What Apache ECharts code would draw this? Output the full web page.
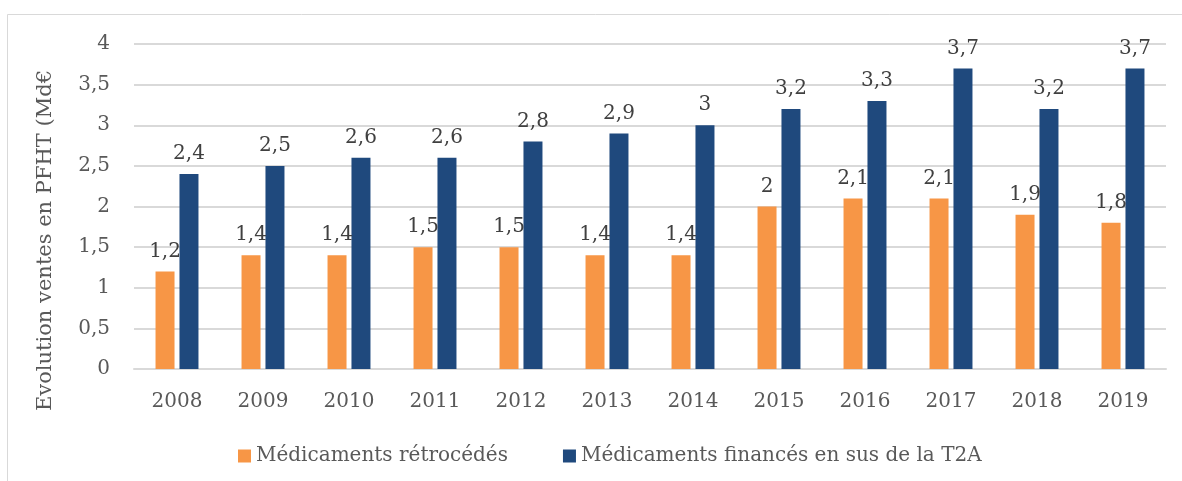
<!DOCTYPE html>
<html>
<head>
<meta charset="utf-8">
<script src="https://cdn.jsdelivr.net/npm/echarts@6/dist/echarts.min.js"></script>
<style>
html,body{margin:0;padding:0;background:#fff;}
#chart{width:1182px;height:481px;}
</style>
</head>
<body>
<div id="chart"></div>
<script>
//données
var years=['2008','2009','2010','2011','2012','2013','2014','2015','2016','2017','2018','2019'];
var retrocedes=[1.2,1.4,1.4,1.5,1.5,1.4,1.4,2,2.1,2.1,1.9,1.8];
var enSus=[2.4,2.5,2.6,2.6,2.8,2.9,3,3.2,3.3,3.7,3.2,3.7];
var seriesNames=['Médicaments rétrocédés','Médicaments financés en sus de la T2A'];
var axisTitle='Evolution ventes en PFHT (Md€';

var font='DejaVu Serif';
var fmt=function (v) {
	return String(v).replace('.',',');
};
var labelStyle={
	show:true,
	position:'top',
	distance:10,
	color:'#404040',
	fontFamily:font,
	fontSize:20,
	formatter:function (p) {return fmt(p.value);}
};

var myChart=echarts.init(document.getElementById('chart'));
var option={
	backgroundColor:'#ffffff',
	animation:false,
	textStyle:{fontFamily:font},
	graphic:[{
		type:'rect',
		shape:{x:7.5,y:14.5,width:1200,height:500},
		style:{fill:'none',stroke:'#d9d9d9',lineWidth:1},
		silent:true
	}],
	grid:{left:134,right:16,top:44,bottom:112},
	legend:{
		data:seriesNames,
		left:233,
		top:441,
		itemWidth:13,
		itemHeight:13,
		itemGap:55,
		icon:'rect',
		textStyle:{color:'#595959',fontFamily:font,fontSize:20}
	},
	xAxis:{
		type:'category',
		data:years,
		axisLine:{lineStyle:{color:'#d9d9d9',width:2}},
		axisTick:{show:false},
		axisLabel:{color:'#595959',fontFamily:font,fontSize:20,margin:23}
	},
	yAxis:{
		type:'value',
		min:0,
		max:4,
		interval:0.5,
		name:axisTitle,
		nameLocation:'middle',
		nameGap:78,
		nameTextStyle:{color:'#595959',fontFamily:font,fontSize:21,padding:[0,0,0,-68]},
		axisLine:{show:false},
		axisTick:{show:false},
		splitLine:{lineStyle:{color:'#d9d9d9',width:2}},
		axisLabel:{color:'#595959',fontFamily:font,fontSize:20,margin:24,formatter:fmt}
	},
	series:[
		{
			name:seriesNames[0],
			type:'bar',
			data:retrocedes,
			barWidth:19,
			barGap:'26%',
			itemStyle:{color:'#f79646'},
			label:labelStyle
		},
		{
			name:seriesNames[1],
			type:'bar',
			data:enSus,
			barWidth:19,
			barGap:'26%',
			itemStyle:{color:'#1f497d'},
			label:labelStyle
		}
	]
};
myChart.setOption(option);
</script>
</body>
</html>
